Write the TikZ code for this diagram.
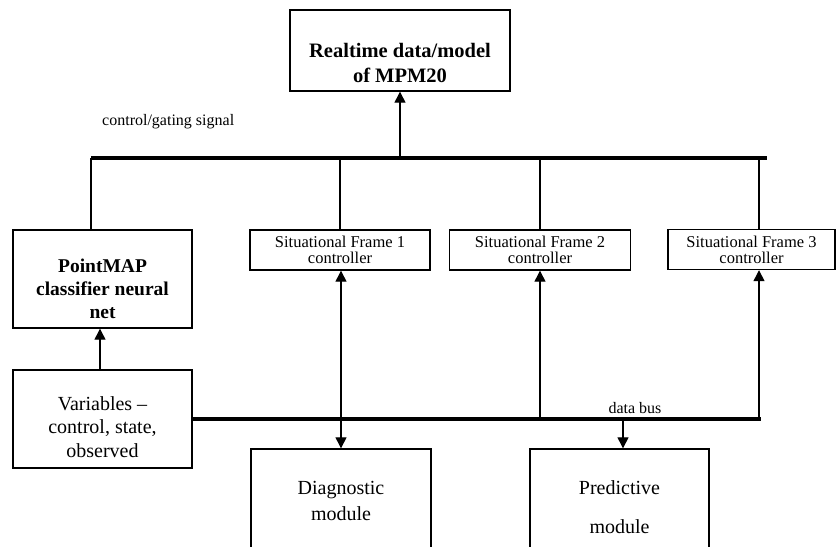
\documentclass[tikz,border=0pt]{standalone}
\usepackage{fontspec}
\setmainfont{Liberation Serif}
\usetikzlibrary{arrows.meta}
\begin{document}
\begin{tikzpicture}[x=1pt,y=-1pt,
  box/.style={draw,line width=1.4pt,inner sep=0pt,rectangle},
  txt/.style={anchor=base,inner sep=0pt},
  bus/.style={line width=4pt},
  conn/.style={line width=1.3pt},
  arr/.style={conn,-{Triangle[width=11pt,length=11pt]}},
  darr/.style={conn,{Triangle[width=11pt,length=11pt]}-{Triangle[width=11pt,length=11pt]}}
]
\useasboundingbox (0,0) rectangle (837,546);
\clip (0,0) rectangle (837,546);
\fill[white] (0,0) rectangle (837,546);

% boxes
\node[box,minimum width=220pt,minimum height=81pt] (rt) at (400,50.5) {};
\node[box,minimum width=179pt,minimum height=98pt] (pm) at (102.5,279) {};
\node[box,minimum width=179pt,minimum height=98pt] (var) at (102.5,419) {};
\node[box,minimum width=180pt,minimum height=40pt] (sf1) at (340,250) {};
\node[box,minimum width=181pt,minimum height=40pt] (sf2) at (540,250) {};
\node[box,minimum width=167pt,minimum height=40pt] (sf3) at (751.5,249.5) {};
\node[box,minimum width=180pt,minimum height=121pt] (dg) at (341,509.5) {};
\node[box,minimum width=179pt,minimum height=121pt] (pr) at (619.5,509.5) {};

% texts
\begin{scope}[font=\fontsize{20.5}{23}\selectfont\bfseries]
\node[txt] (rt1) at (400,57) {Realtime data/model};
\node[txt] (rt2) at (400,82) {of MPM20};
\end{scope}
\begin{scope}[font=\fontsize{19.5}{23}\selectfont\bfseries]
\node[txt] (pm1) at (102.5,272) {PointMAP};
\node[txt] (pm2) at (102.5,295) {classifier neural};
\node[txt] (pm3) at (102.5,318) {net};
\end{scope}
\begin{scope}[font=\fontsize{20}{23}\selectfont]
\node[txt] (v1) at (102.5,410) {Variables –};
\node[txt] (v2) at (102.5,433) {control, state,};
\node[txt] (v3) at (102.5,457) {observed};
\node[txt] (d1) at (341,494) {Diagnostic};
\node[txt] (d2) at (341,520) {module};
\node[txt] (p1) at (619.5,494) {Predictive};
\node[txt] (p2) at (619.5,533) {module};
\end{scope}
\begin{scope}[font=\fontsize{16.5}{15}\selectfont]
\node[txt] (s11) at (340,247.5) {Situational Frame 1};
\node[txt] (s12) at (340,263) {controller};
\node[txt] (s21) at (540,247.5) {Situational Frame 2};
\node[txt] (s22) at (540,263) {controller};
\node[txt] (s31) at (751.5,247.5) {Situational Frame 3};
\node[txt] (s32) at (751.5,263) {controller};
\end{scope}
\node[txt,anchor=base west,font=\fontsize{16}{18}\selectfont] (cg) at (102,125) {control/gating signal};
\node[txt,font=\fontsize{16}{18}\selectfont] (db) at (635,413) {data bus};

% buses
\coordinate (tbL) at (91,158);
\coordinate (tbR) at (767,158);
\coordinate (dbR) at (761,419);
\draw[bus] (tbL) -- (tbR);
\draw[bus] (var.east |- dbR) -- (dbR);

% control/gating drops
\draw[conn] (pm.north -| tbL) -- (tbL);
\draw[conn] (sf1.north |- tbL) -- (sf1.north);
\draw[conn] (sf2.north |- tbL) -- (sf2.north);
\coordinate (sf3x) at (759,158);
\draw[conn] (sf3x) -- (sf3.north -| sf3x);
\draw[arr] (rt.south |- tbL) -- (rt.south);

% data bus connections
\coordinate (vx) at (100,0);
\draw[arr] (var.north -| vx) -- (pm.south -| vx);
\draw[darr] (dg.north) -- (sf1.south -| dg.north);
\draw[arr] (sf2.south |- dbR) -- (sf2.south);
\coordinate (sf3b) at (759,419);
\draw[arr] (sf3b) -- (sf3.south -| sf3b);
\coordinate (prx) at (623,419);
\draw[arr] (prx) -- (pr.north -| prx);
\end{tikzpicture}
\end{document}
